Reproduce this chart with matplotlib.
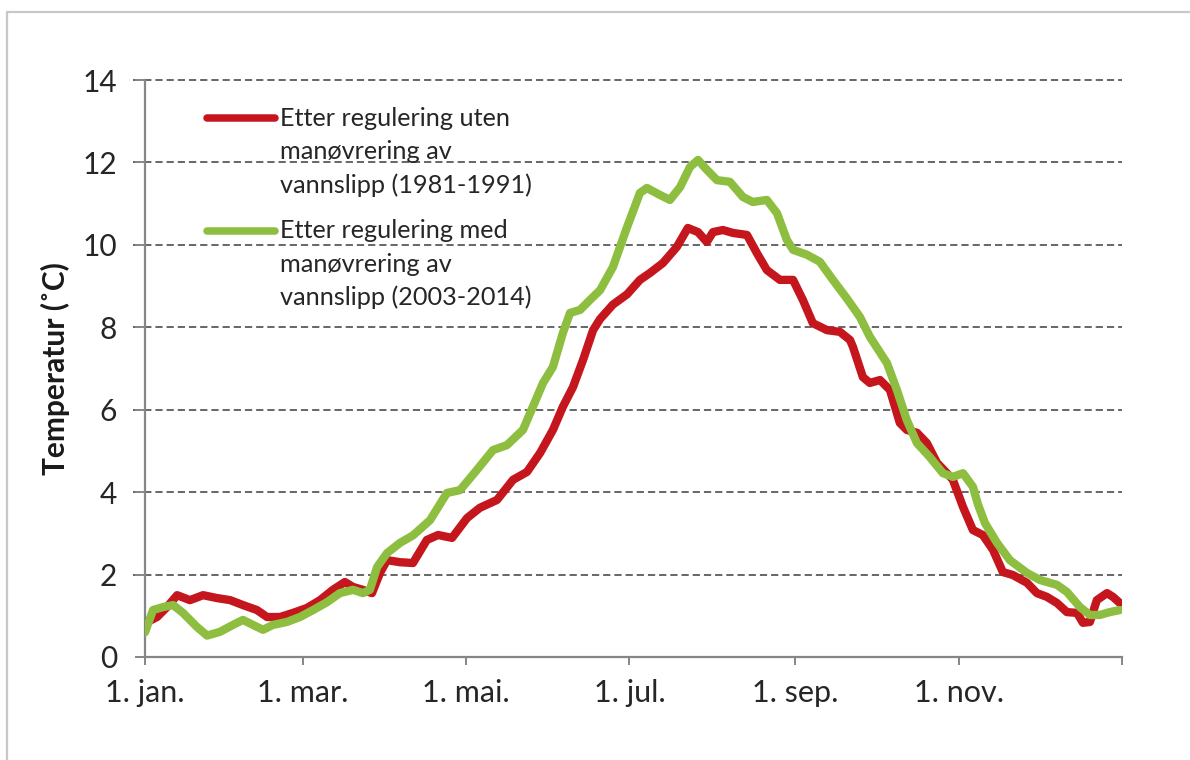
import matplotlib
matplotlib.use("Agg")
import matplotlib.pyplot as plt
from matplotlib.lines import Line2D
from matplotlib.patches import Rectangle

plt.rcParams['font.family'] = ['Lato', 'DejaVu Sans']

# Daily mean water temperature through the year (day of year, °C)
red_days = [0, 4.5, 8.2, 12, 16.8, 21.7, 26.9, 31.8, 36.6, 41.8, 45.6, 50.4, 55.3,
            60.5, 65.4, 70.2, 74.7, 77.7, 81.4, 84.8, 87.8, 90.4, 95.3, 100.1, 105.3,
            109.5, 114.7, 120.3, 125.1, 131.5, 137.5, 142.7, 147.6, 152.4, 156.1,
            159.9, 163.6, 167.4, 170.0, 174.8, 180.1, 184.9, 188.7, 193.5, 198.7,
            202.8, 206.6, 209.9, 212.2, 215.9, 219.6, 224.9, 228.6, 232.3, 237.2,
            242.1, 245.8, 249.5, 254.8, 259.6, 263.4, 264.5, 268.2, 270.8, 274.6,
            278.3, 282.0, 284.6, 288.4, 292.1, 295.9, 299.6, 301.8, 305.6, 309.3,
            313.0, 316.8, 320.5, 324.2, 329.5, 333.2, 336.9, 340.7, 344.4, 348.2,
            350.4, 353.0, 355.6, 359.4, 361.6, 364.2]
red_temp = [0.82, 0.97, 1.21, 1.50, 1.38, 1.50, 1.43, 1.38, 1.26, 1.14, 0.97, 0.97, 1.07,
            1.19, 1.38, 1.63, 1.82, 1.70, 1.63, 1.55, 2.04, 2.35, 2.30, 2.28, 2.84,
            2.96, 2.89, 3.37, 3.62, 3.81, 4.30, 4.49, 4.95, 5.51, 6.07,
            6.55, 7.20, 7.93, 8.20, 8.55, 8.80, 9.15, 9.32, 9.56, 9.95,
            10.41, 10.31, 10.07, 10.31, 10.36, 10.29, 10.24, 9.80, 9.39, 9.15,
            9.15, 8.66, 8.10, 7.93, 7.89, 7.69, 7.52, 6.79, 6.65, 6.72,
            6.48, 5.68, 5.51, 5.44, 5.19, 4.71, 4.46, 4.30, 3.64, 3.08,
            2.96, 2.60, 2.06, 1.99, 1.80, 1.55, 1.46, 1.31, 1.09, 1.07,
            0.83, 0.85, 1.38, 1.55, 1.46, 1.31]

green_days = [0, 3.0, 6.7, 10.5, 14.2, 19.4, 23.2, 28.0, 32.9, 36.6, 40.3, 44.1, 47.8,
              53.0, 57.9, 62.8, 68.0, 72.8, 77.7, 81.4, 84.0, 86.7, 90.4, 95.3, 100.1,
              106.5, 112.8, 117.7, 124.0, 130.0, 135.2, 141.2, 144.9, 148.7, 152.4,
              156.1, 158.8, 162.5, 166.2, 170.0, 174.8, 180.1, 184.9, 187.5, 192.4,
              196.1, 199.9, 203.6, 206.6, 209.9, 213.7, 218.5, 223.4, 227.1, 232.3,
              236.1, 239.8, 242.1, 247.3, 252.1, 257.0, 262.2, 267.1, 270.8, 277.2,
              280.9, 284.6, 288.4, 293.2, 298.1, 301.8, 305.6, 309.3, 311.2, 313.8,
              318.3, 323.1, 329.5, 334.3, 340.7, 344.4, 349.3, 353.0, 356.7, 360.5,
              364.2]
green_temp = [0.60, 1.14, 1.21, 1.26, 1.07, 0.73, 0.52, 0.61, 0.78, 0.90, 0.78, 0.66, 0.78,
              0.85, 0.97, 1.14, 1.33, 1.55, 1.63, 1.55, 1.63, 2.18, 2.52, 2.77, 2.95,
              3.32, 3.98, 4.05, 4.54, 5.02, 5.14, 5.51, 6.07, 6.65, 7.04,
              7.86, 8.35, 8.42, 8.66, 8.90, 9.46, 10.43, 11.26, 11.38, 11.21,
              11.09, 11.40, 11.89, 12.06, 11.82, 11.57, 11.53, 11.16, 11.04, 11.09,
              10.77, 10.12, 9.88, 9.76, 9.59, 9.15, 8.70, 8.25, 7.77, 7.13,
              6.48, 5.75, 5.19, 4.85, 4.46, 4.37, 4.46, 4.13, 3.70, 3.25,
              2.77, 2.35, 2.04, 1.87, 1.75, 1.58, 1.21, 1.02, 1.02, 1.09,
              1.14]

series_labels = [["Etter regulering uten", "manøvrering av", "vannslipp (1981-1991)"],
                 ["Etter regulering med", "manøvrering av", "vannslipp (2003-2014)"]]
series_colors = ["#C4161C", "#8DBE3F"]

month_ticks = [0, 59, 120, 181, 243, 304, 365]
month_labels = ["1. jan.", "1. mar.", "1. mai.", "1. jul.", "1. sep.", "1. nov.", ""]
y_ticks = [0, 2, 4, 6, 8, 10, 12, 14]

W, H = 1190, 760
fig = plt.figure(figsize=(W / 100, H / 100), dpi=100)
fig.patch.set_facecolor("white")

# chart-area frame
fig.add_artist(Rectangle((7 / W, -0.1), 1.2, 1 - 12 / H + 0.1, transform=fig.transFigure,
                         fill=False, edgecolor="#c8c8c8", linewidth=1.6))

AX_L, AX_T, AX_W, AX_H = 145, 80, 977, 577
ax = fig.add_axes([AX_L / W, 1 - (AX_T + AX_H) / H, AX_W / W, AX_H / H])
ax.set_xlim(0, 365)
ax.set_ylim(0, 14)

axis_gray = "#868686"
for y in y_ticks[1:]:
    ax.axhline(y, color="#5a5a5a", linewidth=1.3, dashes=(4, 2.2), zorder=1,
               clip_on=False, xmin=-12 / AX_W, xmax=1)

ax.plot(red_days, red_temp, color=series_colors[0], linewidth=6,
        solid_capstyle="round", solid_joinstyle="round", zorder=3)
ax.plot(green_days, green_temp, color=series_colors[1], linewidth=6,
        solid_capstyle="round", solid_joinstyle="round", zorder=4)

for side in ("top", "right"):
    ax.spines[side].set_visible(False)
for side in ("left", "bottom"):
    ax.spines[side].set_color(axis_gray)
    ax.spines[side].set_linewidth(1.6)

ax.set_yticks(y_ticks)
ax.set_yticklabels([str(v) for v in y_ticks])
ax.set_xticks(month_ticks)
ax.set_xticklabels(month_labels)
ax.tick_params(axis="y", length=7, width=1.4, color=axis_gray, pad=13,
               labelsize=21.5, labelcolor="#262626")
ax.tick_params(axis="x", length=6, width=1.4, color=axis_gray, pad=10,
               labelsize=22, labelcolor="#262626")

ax.text(-0.092, 0.5, "Temperatur (˚C)", transform=ax.transAxes, rotation=90,
        ha="center", va="center", fontsize=21.5, fontweight="bold", color="#1a1a1a")


def px_to_axes_y(py):
    return (AX_T + AX_H - py) / AX_H


# legend drawn in axes coordinates
leg_rows = [[118, 152, 185], [231, 264, 297]]
for color, lines, rows in zip(series_colors, series_labels, leg_rows):
    y0 = px_to_axes_y(rows[0])
    ax.add_line(Line2D([0.0635, 0.133], [y0, y0], transform=ax.transAxes,
                       color=color, linewidth=5.4, solid_capstyle="round"))
    for txt, py in zip(lines, rows):
        ax.text(0.138, px_to_axes_y(py), txt, transform=ax.transAxes, ha="left",
                va="center", fontsize=18.2, color="#262626")

fig.savefig("out.png", dpi=100, facecolor="white")
